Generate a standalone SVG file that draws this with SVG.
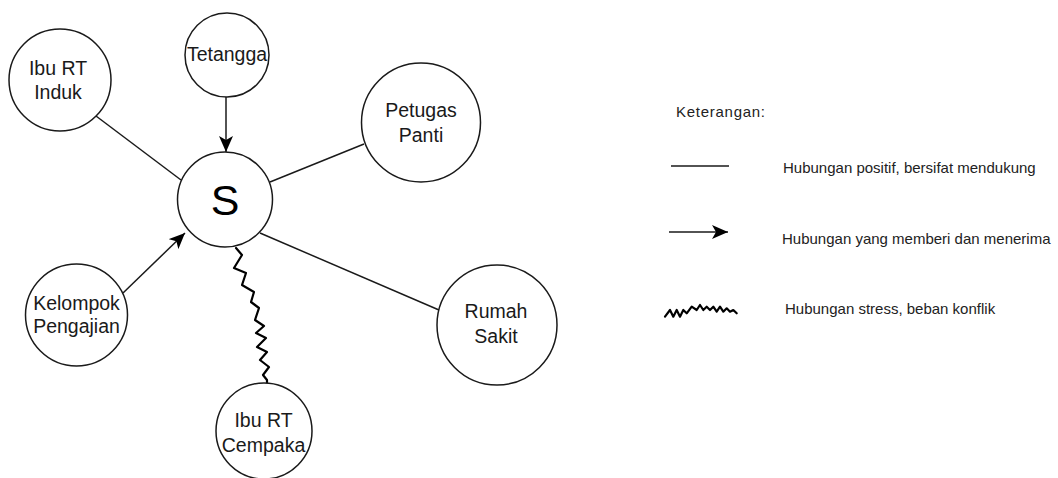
<svg xmlns="http://www.w3.org/2000/svg" width="1058" height="478" viewBox="0 0 1058 478">
<style>
.node{fill:#ffffff;stroke:#1a1a1a;stroke-width:1.5}
.lbl{font-family:"Liberation Sans",Arial,sans-serif;font-size:19.5px;fill:#1a1a1a;text-anchor:middle}
.big{font-family:"Liberation Sans",Arial,sans-serif;font-size:43px;fill:#000;text-anchor:middle}
.edge{fill:none;stroke:#1a1a1a;stroke-width:1.5}
.zig{fill:none;stroke:#000;stroke-width:2.2;stroke-linejoin:round;stroke-linecap:round}
.leg{font-family:"Liberation Sans",Arial,sans-serif;font-size:15px;fill:#222}
</style>
<defs>
<marker id="arr" markerUnits="userSpaceOnUse" markerWidth="17" markerHeight="14" refX="16" refY="7" orient="auto" viewBox="0 0 17 14">
<path d="M0,0 L16,7 L0,14 L4,7 Z" fill="#000"/>
</marker>
</defs>
<rect width="1058" height="478" fill="#ffffff"/>
<g id="connectors">
<line class="edge" x1="96" y1="116" x2="181" y2="180"/>
<line class="edge" x1="226" y1="97" x2="226" y2="152" marker-end="url(#arr)"/>
<line class="edge" x1="364" y1="144" x2="270" y2="182"/>
<line class="edge" x1="439" y1="310" x2="260" y2="233"/>
<line class="edge" x1="123" y1="293" x2="185" y2="233" marker-end="url(#arr)"/>
<polyline class="zig" points="236,248 242,255 234,268 246,273 242,285 254,292 251,302 259,308 255,320 264,326 256,333 266,338 257,347 267,352 260,360 269,367 263,375 267,380 267,383"/>
</g>
<g id="node-induk"><circle class="node" cx="60" cy="80" r="51"/><text class="lbl" x="58" y="75">Ibu RT</text><text class="lbl" x="58" y="99">Induk</text></g>
<g id="node-tetangga"><circle class="node" cx="227" cy="55" r="42"/><text class="lbl" x="227" y="61">Tetangga</text></g>
<g id="node-s"><circle class="node" cx="225" cy="199.5" r="47.5"/><text class="big" x="225" y="215">S</text></g>
<g id="node-petugas"><circle class="node" cx="421" cy="122.5" r="59.5"/><text class="lbl" x="421" y="117">Petugas</text><text class="lbl" x="421" y="142">Panti</text></g>
<g id="node-rumah"><circle class="node" cx="497" cy="325" r="60"/><text class="lbl" x="496" y="318">Rumah</text><text class="lbl" x="496" y="343">Sakit</text></g>
<g id="node-kelompok"><circle class="node" cx="76.5" cy="315" r="51"/><text class="lbl" x="76.5" y="310">Kelompok</text><text class="lbl" x="76.5" y="333">Pengajian</text></g>
<g id="node-cempaka"><circle class="node" cx="264" cy="431" r="48"/><text class="lbl" x="263.5" y="427">Ibu RT</text><text class="lbl" x="263.5" y="452">Cempaka</text></g>
<g id="legend">
<text class="leg" x="676" y="117" textLength="89" lengthAdjust="spacing">Keterangan:</text>
<line class="edge" x1="671" y1="166" x2="729" y2="166"/>
<text class="leg" x="783" y="173">Hubungan positif, bersifat mendukung</text>
<line class="edge" x1="669" y1="232" x2="728" y2="232" marker-end="url(#arr)"/>
<text class="leg" x="782" y="244">Hubungan yang memberi dan menerima</text>
<polyline class="zig" points="665,316.7 670,310 673.3,316.7 676.7,310 680,316.7 683.3,310 686.7,313.3 691.7,306.7 696.7,310 700,305 703.3,310 706.7,306.7 710,310 713.3,306.7 716.7,311.7 720,306.7 723.3,311.7 726.7,308.3 730,311.7 733.3,310 736.7,313.3"/>
<text class="leg" x="785" y="314">Hubungan stress, beban konflik</text>
</g>
</svg>
